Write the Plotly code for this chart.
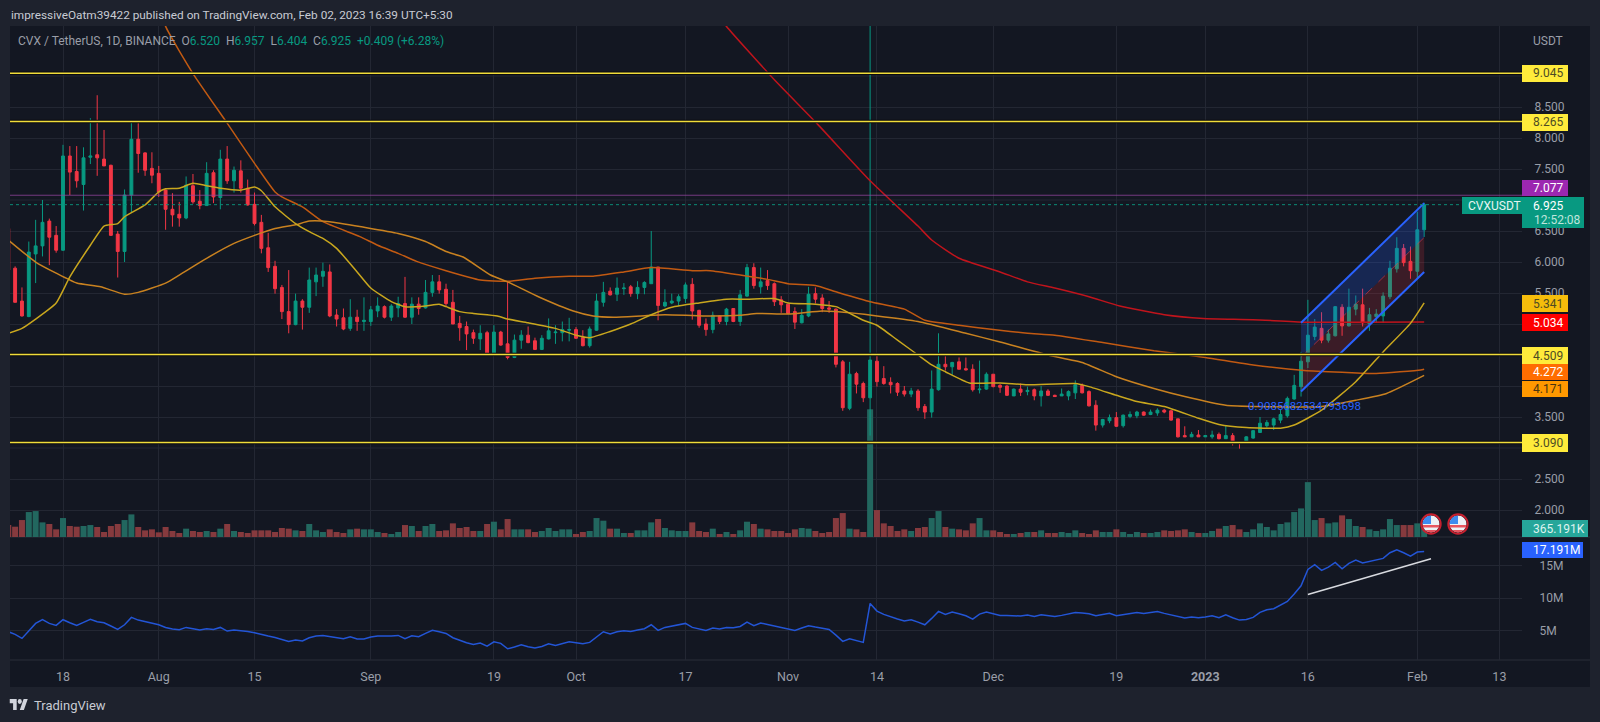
import base64
import pandas as pd
import plotly.graph_objects as go

W, H = 1600, 722
START = "2022-07-10"

OPEN = [6.54,
 5.90,5.37,5.12,6.13,6.26,6.66,6.43,
 6.19,7.71,7.46,7.25,7.69,7.73,7.66,7.56,6.45,6.17,
 7.08,7.98,7.76,7.51,7.43,7.16,6.85,6.77,6.71,7.23,
 6.98,6.91,7.44,7.04,7.66,7.31,7.47,7.19,6.93,6.64,
 6.23,5.93,5.59,5.20,4.99,5.37,5.27,5.68,5.77,5.84,
 5.145,5.10,4.93,5.11,5.04,5.04,5.21,5.28,5.11,5.26,
 5.33,5.11,5.32,5.26,5.51,5.68,5.56,5.35,5.01,4.96,
 4.86,4.76,4.86,4.51,4.87,4.68,4.46,4.74,4.82,4.73,
 4.59,4.76,4.86,4.86,4.90,4.91,4.78,4.65,4.90,5.35,
 5.53,5.48,5.57,5.60,5.49,5.59,5.65,5.92,5.29,5.34,
 5.37,5.41,5.64,5.22,5.00,4.91,5.13,5.04,5.25,5.04,
 5.45,5.91,5.60,5.70,5.65,5.39,5.32,5.20,5.02,5.13,
 5.49,5.42,5.26,5.24,4.39,3.64,4.20,4.04,3.81,4.40,
 4.12,4.06,4.04,3.92,3.87,3.92,3.67,3.58,3.94,4.35,
 4.31,4.39,4.28,4.27,3.94,3.95,4.19,4.01,4.00,3.84,
 3.95,3.91,3.94,3.84,3.92,3.85,3.84,3.84,3.89,4.01,
 3.91,3.69,3.37,3.44,3.49,3.36,3.51,3.52,3.58,3.54,
 3.565,3.61,3.60,3.47,3.20,3.18,3.21,3.18,3.18,3.22,
 3.15,3.20,3.10,3.08,3.16,3.25,3.36,3.37,3.45,3.52,
 3.79,3.99,4.39,4.80,4.93,4.74,4.81,5.27,4.97,5.24,
 5.31,5.00,5.12,5.13,5.44,5.89,6.22,6.01,5.85,6.52]

HIGH = [6.60,
 5.93,5.59,6.33,6.68,7.00,6.70,6.58,
 7.89,7.87,7.87,7.85,8.32,8.69,8.13,7.57,6.50,7.17,
 8.25,8.24,7.77,7.77,7.55,7.17,7.11,6.97,7.38,7.42,
 7.16,7.61,7.48,7.81,7.87,7.54,7.64,7.33,7.12,6.76,
 6.47,6.02,5.63,5.87,5.49,5.40,5.91,5.91,5.99,5.96,
 5.24,5.25,5.40,5.23,5.43,5.29,5.43,5.30,5.32,5.44,
 5.76,5.43,5.43,5.71,5.79,5.79,5.65,5.55,5.13,5.04,
 4.91,4.98,4.89,4.98,4.89,5.68,4.83,4.90,4.96,4.78,
 4.82,5.09,4.98,5.04,5.10,4.95,4.90,4.96,5.49,5.68,
 5.59,5.75,5.66,5.63,5.69,5.69,6.50,5.92,5.56,5.49,
 5.48,5.67,5.74,5.23,5.09,5.20,5.14,5.26,5.25,5.55,
 5.97,5.98,5.91,5.87,5.67,5.45,5.32,5.27,5.24,5.60,
 5.59,5.48,5.37,5.25,4.42,4.39,4.23,4.07,10.60,4.50,
 4.32,4.14,4.06,4.00,3.97,3.95,3.71,4.25,4.85,4.48,
 4.39,4.46,4.46,4.35,4.41,4.22,4.19,4.03,4.01,3.96,
 4.04,3.99,3.96,4.00,3.95,3.86,3.96,3.93,4.09,4.04,
 3.93,3.77,3.47,3.54,3.58,3.54,3.59,3.60,3.59,3.62,
 3.64,3.63,3.61,3.47,3.35,3.26,3.29,3.21,3.28,3.25,
 3.36,3.24,3.11,3.19,3.29,3.50,3.45,3.49,3.62,3.83,
 4.18,4.55,5.39,5.08,5.19,4.91,5.29,5.32,5.57,5.46,
 5.57,5.26,5.24,5.51,6.02,6.40,6.29,6.25,6.81,6.957]

LOW = [5.80,
 5.35,5.12,5.11,5.66,6.09,5.95,6.15,
 6.18,7.08,7.20,6.83,7.58,7.39,7.55,6.42,5.75,6.00,
 6.79,7.44,7.39,7.27,7.05,6.52,6.57,6.57,6.69,6.94,
 6.85,6.91,6.95,6.85,7.26,7.12,7.12,6.91,6.59,6.14,
 5.84,5.49,5.08,4.85,4.98,4.91,5.18,5.45,5.60,5.11,
 4.96,4.90,4.89,4.89,4.89,4.97,5.11,5.09,5.05,5.11,
 5.10,5.00,5.15,5.25,5.44,5.49,5.28,5.00,4.73,4.58,
 4.68,4.58,4.49,4.50,4.65,4.43,4.45,4.60,4.69,4.58,
 4.58,4.75,4.68,4.72,4.72,4.76,4.64,4.62,4.89,5.28,
 5.46,5.37,5.47,5.44,5.40,5.48,5.645,5.06,5.27,5.32,
 5.29,5.34,5.07,4.94,4.81,4.85,5.00,4.98,5.03,4.97,
 5.44,5.57,5.49,5.55,5.29,5.18,5.16,4.92,5.01,5.11,
 5.33,5.19,5.18,4.30,3.60,3.61,3.88,3.74,3.20,3.99,
 4.02,3.88,3.84,3.83,3.82,3.60,3.47,3.49,3.925,4.25,
 4.18,4.27,4.25,3.91,3.88,3.94,3.98,3.89,3.84,3.84,
 3.84,3.85,3.77,3.67,3.84,3.83,3.84,3.77,3.79,3.88,
 3.67,3.28,3.33,3.40,3.34,3.33,3.48,3.48,3.52,3.53,
 3.52,3.56,3.44,3.17,3.18,3.18,3.18,3.18,3.15,3.14,
 3.145,3.04,2.99,3.07,3.15,3.25,3.33,3.29,3.40,3.49,
 3.78,3.83,4.29,4.74,4.69,4.70,4.80,4.81,4.96,5.14,
 4.96,4.89,5.02,5.02,5.40,5.83,5.93,5.73,5.74,6.404]

CLOSE = [5.87,
 5.35,5.13,6.16,6.26,6.64,6.40,6.19,
 7.71,7.45,7.31,7.68,7.71,7.68,7.55,6.43,6.17,7.08,
 7.98,7.75,7.48,7.40,7.13,6.85,6.76,6.71,7.24,6.97,
 6.91,7.43,7.05,7.66,7.31,7.48,7.19,6.92,6.62,6.22,
 5.91,5.57,5.20,4.99,5.37,5.27,5.71,5.79,5.85,5.13,
 5.08,4.92,5.11,5.04,5.06,5.23,5.29,5.11,5.29,5.33,
 5.11,5.32,5.25,5.51,5.68,5.55,5.33,5.00,4.94,4.84,
 4.77,4.85,4.53,4.87,4.66,4.46,4.74,4.82,4.70,4.59,
 4.77,4.89,4.87,4.91,4.91,4.77,4.65,4.92,5.37,5.51,
 5.47,5.58,5.58,5.49,5.59,5.67,5.92,5.30,5.35,5.37,
 5.44,5.63,5.21,4.98,4.91,5.14,5.04,5.24,5.04,5.47,
 5.91,5.62,5.68,5.62,5.36,5.31,5.17,5.03,5.14,5.48,
 5.40,5.25,5.24,4.35,3.65,4.19,4.03,3.81,4.42,4.07,
 4.04,4.02,3.90,3.87,3.92,3.65,3.58,3.95,4.35,4.31,
 4.38,4.27,4.26,3.94,3.95,4.19,3.99,3.98,3.85,3.95,
 3.90,3.93,3.84,3.92,3.85,3.83,3.87,3.91,4.02,3.89,
 3.68,3.37,3.46,3.49,3.35,3.53,3.54,3.58,3.53,3.58,
 3.61,3.58,3.45,3.18,3.18,3.22,3.18,3.20,3.21,3.15,
 3.20,3.08,3.09,3.18,3.28,3.40,3.41,3.47,3.54,3.80,
 4.01,4.40,4.82,4.95,4.74,4.84,5.28,4.97,5.27,5.32,
 5.02,5.15,5.16,5.45,5.90,6.22,5.99,5.86,6.52,6.925]

VOLUME_K = [486,
 419,689,1013,1053,594,527,311,
 770,446,419,446,486,405,203,446,527,689,
 918,405,270,311,189,405,243,162,338,243,
 203,243,203,338,527,243,203,162,270,270,
 270,203,365,338,270,243,527,270,203,311,
 203,162,311,338,311,311,203,162,122,203,
 486,446,243,446,527,243,270,554,365,405,
 243,243,527,621,311,729,311,311,311,203,
 243,365,243,311,311,122,203,243,770,662,
 338,338,162,162,270,270,594,729,365,270,
 243,243,594,243,203,338,122,203,122,270,
 621,527,338,311,243,243,162,311,365,338,
 243,162,203,770,972,338,311,203,5184,1094,
 554,446,243,311,243,365,405,770,1053,405,
 338,311,270,554,770,270,270,203,122,122,
 162,203,203,270,162,162,203,162,270,162,
 122,270,203,203,311,203,122,203,162,162,
 203,270,243,270,311,203,162,162,243,338,
 446,486,311,203,311,554,405,270,527,594,
 1013,1161,2228,689,770,554,594,878,729,446,
 405,311,243,311,729,486,486,486,554,365.191]

OBV_M = [4.79,
 4.38,3.76,4.89,6.08,6.65,6.08,5.77,
 6.65,6.18,5.77,6.23,6.70,6.34,6.18,5.67,5.15,5.87,
 7.01,6.59,6.34,6.08,5.87,5.46,5.20,5.10,5.46,5.25,
 5.05,5.25,5.15,5.46,4.89,5.05,5.00,4.84,4.64,4.33,
 4.12,3.91,3.55,3.30,3.50,3.35,3.86,4.12,4.22,4.02,
 3.81,3.71,4.02,3.66,3.66,3.97,4.12,4.07,4.12,4.22,
 3.71,4.17,4.02,4.53,5.00,4.79,4.53,3.86,3.45,3.09,
 2.83,3.04,2.57,3.24,2.99,2.16,2.42,2.78,2.47,2.26,
 2.52,2.93,2.68,2.99,3.24,3.09,2.93,3.14,4.02,4.79,
 4.43,4.79,4.94,4.84,5.05,5.25,5.87,5.00,5.46,5.67,
 5.87,6.08,5.46,5.20,5.00,5.36,5.20,5.46,5.41,5.61,
 6.28,5.72,6.13,5.92,5.67,5.46,5.25,5.00,5.36,5.72,
 5.51,5.31,5.15,4.27,3.30,3.71,3.40,3.14,9.17,7.99,
 7.47,7.06,6.75,6.44,6.65,6.28,5.87,6.85,7.93,7.47,
 7.83,7.57,7.26,6.75,7.52,7.83,7.57,7.32,7.32,7.21,
 7.21,7.37,7.16,7.42,7.32,7.16,7.32,7.52,7.78,7.68,
 7.57,7.26,7.42,7.63,7.26,7.42,7.57,7.78,7.63,7.73,
 7.93,7.63,7.37,7.16,6.90,7.06,6.95,7.06,7.26,6.95,
 7.42,6.95,6.59,6.70,7.01,7.78,8.19,8.35,8.91,9.48,
 10.61,11.90,14.43,15.15,14.27,14.79,15.51,14.53,15.36,15.87,
 15.41,15.67,15.87,16.13,17.01,17.47,17.01,16.49,17.11,17.191]

# moving averages read at selected bars: days counted from 18 Jul 2022
MA20_DAY = [-8,-6,-4,-1,1,4,6,8,9,12,14,15,17,19,21,23,26,28,29,31,34,36,38,40,43,45,48,50,53,55,56,58,60,63.5,65,68,72,75,77,80,83,86,89,93,97,100,104,106,110,113,117,119,122,125,127,129,132.5,137,141,148,150,154,157,161,166,169,173,178,180,184,189,193,197,199]
MA20_VAL = [4.85,4.93,5.08,5.34,5.76,6.27,6.58,6.62,6.73,6.92,7.13,7.18,7.19,7.27,7.23,7.19,7.16,7.21,7.15,6.89,6.62,6.49,6.38,6.22,5.84,5.58,5.36,5.28,5.29,5.32,5.28,5.20,5.17,5.13,5.08,5.02,4.93,4.82,4.78,4.88,5.00,5.15,5.27,5.34,5.40,5.40,5.41,5.34,5.32,5.28,5.06,4.98,4.74,4.50,4.34,4.23,4.05,4.05,4.02,4.04,3.99,3.85,3.75,3.67,3.48,3.38,3.33,3.32,3.37,3.61,4.07,4.55,5.01,5.341]
MA50_DAY = [-8,-4,-1,2,5.5,9,11,15,17,21,25,28,31,34,36,39,44,49,53,56,58.5,62.5,65,69.5,74.6,77.5,80.5,84.5,88,93.6,99,101.4,106,111,113,119,125,132,137,144,149,154,159.5,164,170,174,179,184,189,193.5,199]
MA50_VAL = [6.355,6.00,5.82,5.66,5.60,5.48,5.51,5.66,5.79,6.06,6.30,6.43,6.54,6.60,6.66,6.65,6.56,6.46,6.33,6.17,6.08,5.79,5.68,5.44,5.21,5.13,5.11,5.13,5.15,5.13,5.14,5.17,5.16,5.21,5.20,5.13,5.04,4.85,4.71,4.50,4.38,4.15,3.96,3.83,3.69,3.67,3.66,3.67,3.77,3.88,4.171]
MA100_DAY = [14,15,19,24,28,31,32,35,38,43.4,46,49,51.7,56,61,65,69,74,77.5,82,86,92,94.6,99,103,106,110,113,118,123,126,131,136,141,145,152,159.5,167,174,181.5,187,192,198.5,199]
MA100_VAL = [10.2,9.80,9.04,8.24,7.59,7.13,7.05,6.89,6.65,6.41,6.27,6.14,6.01,5.86,5.71,5.69,5.74,5.77,5.77,5.84,5.91,5.86,5.86,5.79,5.72,5.65,5.62,5.52,5.36,5.24,5.06,4.98,4.91,4.85,4.82,4.70,4.57,4.46,4.34,4.25,4.22,4.20,4.26,4.272]
MA200_DAY = [95,97,104,110,118,125,127,131,137,141,145,150,154.5,161,166.7,174,181.5,189,199]
MA200_VAL = [10.1,9.80,8.94,8.26,7.31,6.58,6.355,6.06,5.84,5.68,5.58,5.44,5.29,5.15,5.09,5.07,5.03,5.03,5.034]

LEVELS = [9.045, 8.265, 4.509, 3.090]
HIGH_MARK = 7.077
LAST_PRICE = 6.925

CHANNEL_DAY = [181, 199]
CHANNEL_TOP = [5.02, 6.95]
CHANNEL_MID = [4.465, 6.395]
CHANNEL_BOT = [3.91, 5.84]
CHANNEL_NOTE = "0.9085682534793698"

TREND_DAY = [182, 200]
TREND_VAL = [10.56, 16.08]

PRICE_TICKS = [2.0,2.5,3.5,4.0,4.5,5.0,5.5,6.0,6.5,7.5,8.0,8.5]
OBV_TICKS = [5, 10, 15]
OBV_LABELS = ["5M", "10M", "15M"]
X_TICK_DAYS = [0,14,28,45,63,75,91,106,119,136,154,167,182,198,210]
X_TICK_TEXT = ["18","Aug","15","Sep","19","Oct","17","Nov","14","Dec","19","<b>2023</b>","16","Feb","13"]
GRID_PRICES = [2.0,2.5,3.0,3.5,4.0,4.5,5.0,5.5,6.0,6.5,7.0,7.5,8.0,8.5,9.0]

BG_OUT = "#1e222d"; BG = "#131722"; GRID = "#232733"
UP = "#089981"; DOWN = "#f23645"
UPV = "#22675f"; DOWNV = "#863a3e"
GRAY = "#9a9ea8"
FONT = "Roboto"

t0 = pd.Timestamp("2022-07-18")
def d(v):
    return (t0 + pd.Timedelta(days=v)).strftime("%Y-%m-%d %H:%M")
dates = [pd.Timestamp(START) + pd.Timedelta(days=i) for i in range(len(OPEN))]
date_s = [x.strftime("%Y-%m-%d") for x in dates]
days = lambda arr: [d(v) for v in arr]

XPX0, XPX1 = 10, 1522
PXDAY = 6.84
x_range = [d((XPX0 - 63) / PXDAY), d((XPX1 - 63) / PXDAY)]
def px(x): return x / W
def py(y): return 1 - y / H

fig = go.Figure()
fig.add_trace(go.Bar(x=date_s, y=VOLUME_K, xaxis="x", yaxis="y",
    marker=dict(color=[UPV if c >= o else DOWNV for o, c in zip(OPEN, CLOSE)], line_width=0),
    hoverinfo="skip", showlegend=False))

cx = days(CHANNEL_DAY)
fig.add_trace(go.Scatter(x=[cx[0], cx[1], cx[1], cx[0]],
    y=[CHANNEL_TOP[0], CHANNEL_TOP[1], CHANNEL_MID[1], CHANNEL_MID[0]],
    yaxis="y2", fill="toself", fillcolor="rgba(41,98,255,0.22)", mode="none",
    hoverinfo="skip", showlegend=False))
fig.add_trace(go.Scatter(x=[cx[0], cx[1], cx[1], cx[0]],
    y=[CHANNEL_MID[0], CHANNEL_MID[1], CHANNEL_BOT[1], CHANNEL_BOT[0]],
    yaxis="y2", fill="toself", fillcolor="rgba(242,54,69,0.18)", mode="none",
    hoverinfo="skip", showlegend=False))

for dd, vv, col in [(MA200_DAY, MA200_VAL, "#c0141c"), (MA100_DAY, MA100_VAL, "#c25a12"),
                    (MA50_DAY, MA50_VAL, "#c98220"), (MA20_DAY, MA20_VAL, "#c9a71e")]:
    fig.add_trace(go.Scatter(x=days(dd), y=vv, yaxis="y2", mode="lines",
        line=dict(color=col, width=1.5, shape="spline", smoothing=0.5),
        hoverinfo="skip", showlegend=False))

fig.add_trace(go.Candlestick(x=date_s, open=OPEN, high=HIGH, low=LOW, close=CLOSE,
    yaxis="y2",
    increasing=dict(line=dict(color=UP, width=1), fillcolor=UP),
    decreasing=dict(line=dict(color=DOWN, width=1), fillcolor=DOWN),
    hoverinfo="skip", showlegend=False))

for vv, dash, col, wd in [(CHANNEL_TOP, "solid", "#2962ff", 2), (CHANNEL_BOT, "solid", "#2962ff", 2),
                          (CHANNEL_MID, "dash", "rgba(242,54,69,0.55)", 1)]:
    fig.add_trace(go.Scatter(x=cx, y=vv, yaxis="y2", mode="lines",
        line=dict(color=col, width=wd, dash=dash), hoverinfo="skip", showlegend=False))

fig.add_trace(go.Scatter(x=date_s, y=OBV_M, xaxis="x2", yaxis="y3", mode="lines",
    line=dict(color="#2355d6", width=1.5), hoverinfo="skip", showlegend=False))
fig.add_trace(go.Scatter(x=days(TREND_DAY), y=TREND_VAL, xaxis="x2", yaxis="y3", mode="lines",
    line=dict(color="#d8dadf", width=1.5), hoverinfo="skip", showlegend=False))

shapes = []
def rect(x0, y0, x1, y1, color, layer="above"):
    shapes.append(dict(type="rect", xref="paper", yref="paper", x0=px(x0), x1=px(x1),
        y0=py(y1), y1=py(y0), fillcolor=color, line_width=0, layer=layer))
def hline(val, color, width, dash="solid", layer="above"):
    shapes.append(dict(type="line", xref="paper", yref="y2", x0=px(XPX0), x1=px(XPX1),
        y0=val, y1=val, line=dict(color=color, width=width, dash=dash), layer=layer))

rect(10, 26, 1590, 687, BG, "below")
for gp in GRID_PRICES:
    if gp not in PRICE_TICKS:
        hline(gp, GRID, 1, layer="below")
for lv in LEVELS:
    hline(lv, "#0a0b0f", 3.5)
    hline(lv, "#f0dc3a", 1.5)
hline(HIGH_MARK, "rgba(150,70,160,0.75)", 1)
hline(LAST_PRICE, "#0b8a76", 1, "dot")
for yy in (537, 660):
    shapes.append(dict(type="line", xref="paper", yref="paper", x0=px(10), x1=px(1590),
        y0=py(yy), y1=py(yy), line=dict(color="#2a2e39", width=1), layer="below"))

annotations = []
def text(x, y, s, color, size=12):
    annotations.append(dict(xref="paper", yref="paper", x=px(x), y=py(y), text=s, showarrow=False,
        xanchor="left", yanchor="middle", align="left", borderpad=0,
        font=dict(family=FONT, size=size, color=color)))

def tag(y0, y1, s, bg, fg, x1=1568, tx=1532, size=12):
    rect(1522, y0, x1, y1, bg)
    text(tx, (y0 + y1) / 2, s, fg, size)

OLIVE = "#4d4b24"
tag(65, 82, "9.045", "#ffeb3b", OLIVE)
tag(114, 131, "8.265", "#ffeb3b", OLIVE)
tag(180, 196, "7.077", "#9c27b0", "#ffffff")
rect(1462, 197, 1522, 214, UP)
text(1467, 205.5, "CVXUSDT", "#e6f5f1")
rect(1522, 197, 1584, 228, UP)
text(1532, 205.5, "6.925", "#ffffff")
text(1533, 220, "12:52:08", "#bfe5dc")
tag(295, 312, "5.341", "#f5bd0b", OLIVE)
tag(314, 331, "5.034", "#ff0000", "#ffffff")
tag(347, 364, "4.509", "#ffeb3b", OLIVE)
tag(364, 380, "4.272", "#ff6d00", "#ffffff")
tag(381, 397, "4.171", "#ff9800", "#4a3410")
tag(434, 452, "3.090", "#ffeb3b", OLIVE)
tag(520, 537, "365.191K", "#26a69a", "#dff3f0", x1=1588)
tag(542, 558, "17.191M", "#2962ff", "#ffffff", x1=1583)

text(1532, 41, "USDT", GRAY)
text(10, 15, "impressiveOatm39422 published on TradingView.com, Feb 02, 2023 16:39 UTC+5:30", "#c8cbd3", 11.8)
G = UP
text(17, 41, ("CVX / TetherUS, 1D, BINANCE  O<span style='color:%s'>6.520</span>  H<span style='color:%s'>6.957</span>"
              "  L<span style='color:%s'>6.404</span>  C<span style='color:%s'>6.925</span>"
              "  <span style='color:%s'>+0.409 (+6.28%%)</span>") % (G, G, G, G, G), GRAY, 12)
text(33, 705, "TradingView", "#c8cbd3", 13)
annotations.append(dict(xref="x", yref="y2", x=d(173), y=3.68, text=CHANNEL_NOTE, showarrow=False,
    xanchor="left", yanchor="middle", font=dict(family=FONT, size=11.5, color="#2962ff")))

def uri(svg):
    return "data:image/svg+xml;base64," + base64.b64encode(svg.encode()).decode()
LOGO = uri('<svg xmlns="http://www.w3.org/2000/svg" viewBox="0 0 36 18"><path fill="#d1d4dc" d="M14 18H7V7H0V0h14v18zM28 18h-8l7.5-18h8L28 18z"/><circle fill="#d1d4dc" cx="20" cy="4" r="4"/></svg>')
FLAG = uri('<svg xmlns="http://www.w3.org/2000/svg" viewBox="0 0 22 22"><defs><clipPath id="c"><circle cx="11" cy="11" r="8.5"/></clipPath></defs>'
           '<g clip-path="url(#c)"><rect width="22" height="22" fill="#eef0f4"/><rect y="12" width="22" height="2.5" fill="#e8555f"/><rect y="17" width="22" height="3" fill="#e8555f"/>'
           '<rect x="2" y="2" width="9" height="9" fill="#3d8bf0"/></g><circle cx="11" cy="11" r="9.7" fill="none" stroke="#c8202f" stroke-width="2"/></svg>')
images = [dict(source=LOGO, xref="paper", yref="paper", x=px(9.5), y=py(699), sizex=18.5/W, sizey=11/H,
               xanchor="left", yanchor="top", sizing="stretch", layer="above")]
for cx_px in (1431, 1458):
    images.append(dict(source=FLAG, xref="paper", yref="paper", x=px(cx_px-11), y=py(513), sizex=22/W, sizey=22/H,
                       xanchor="left", yanchor="top", sizing="stretch", layer="above"))

tv = days(X_TICK_DAYS)
common_x = dict(type="date", range=x_range, domain=[px(XPX0), px(XPX1)], tickvals=tv,
                showgrid=True, gridcolor=GRID, gridwidth=1, zeroline=False, showline=False,
                rangeslider=dict(visible=False), fixedrange=True, tickmode="array")
fig.update_layout(
    width=W, height=H, margin=dict(l=0, r=0, t=0, b=0), autosize=False,
    paper_bgcolor=BG_OUT, plot_bgcolor=BG, showlegend=False, bargap=0.12, boxgap=0.4, dragmode=False,
    font=dict(family=FONT, size=12, color=GRAY),
    xaxis=dict(anchor="y", ticktext=X_TICK_TEXT, showticklabels=False, **common_x),
    xaxis2=dict(anchor="y3", ticktext=X_TICK_TEXT, showticklabels=True, ticks="outside", ticklen=5,
                tickcolor="rgba(0,0,0,0)", tickfont=dict(family=FONT, size=12.5, color=GRAY), tickangle=0,
                **common_x),
    yaxis=dict(domain=[py(537), py(26)], range=[0, 511 * 40.6], visible=False, anchor="x", fixedrange=True),
    yaxis2=dict(overlaying="y", side="right", anchor="x", range=[10.226 - 537 / 62, 10.226 - 26 / 62],
                tickmode="array", tickvals=PRICE_TICKS, ticktext=["%.3f" % v for v in PRICE_TICKS],
                gridcolor=GRID, gridwidth=1, showgrid=True, zeroline=False, showline=False,
                ticks="outside", ticklen=9, tickcolor="rgba(0,0,0,0)", fixedrange=True,
                tickfont=dict(family=FONT, size=12, color=GRAY)),
    yaxis3=dict(domain=[py(660), py(537)], anchor="x2", side="right", range=[0.42, 19.44],
                tickmode="array", tickvals=OBV_TICKS, ticktext=OBV_LABELS,
                gridcolor=GRID, gridwidth=1, showgrid=True, zeroline=False, showline=False,
                ticks="outside", ticklen=14, tickcolor="rgba(0,0,0,0)", fixedrange=True,
                tickfont=dict(family=FONT, size=12, color=GRAY)),
    shapes=shapes, annotations=annotations, images=images,
)
fig.write_html("out.html", config=dict(displayModeBar=False),
               post_script="document.body.style.margin='0';document.body.style.background='%s';" % BG_OUT)
